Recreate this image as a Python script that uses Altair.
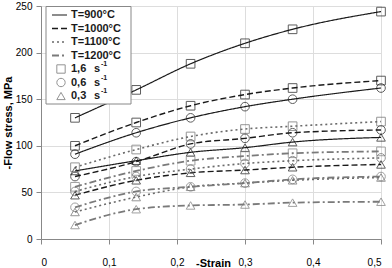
import altair as alt
import pandas as pd

# Strain values where flow stress was measured
strain = [0.05, 0.14, 0.22, 0.30, 0.37, 0.50]

temps = ["T=900°C", "T=1000°C", "T=1100°C", "T=1200°C"]
rates = ["1,6", "0,6", "0,3"]

# Flow stress (MPa) per temperature and strain rate (s^-1)
t900_r16 = [130, 160, 188, 210, 225, 244]
t900_r06 = [91, 114, 130, 142, 150, 162]
t900_r03 = [73, 84, 93, 98, 104, 109]
t1000_r16 = [100, 125, 143, 155, 162, 170]
t1000_r06 = [67, 83, 102, 108, 114, 117]
t1000_r03 = [47, 63, 71, 74, 77, 80]
t1100_r16 = [77, 96, 110, 118, 121, 126]
t1100_r06 = [51, 67, 75, 81, 84, 87]
t1100_r03 = [29, 45, 56, 60, 63, 66]
t1200_r16 = [56, 73, 84, 89, 92, 94]
t1200_r06 = [34, 51, 56, 60, 64, 67]
t1200_r03 = [15, 32, 36, 37, 39, 40]

series = {
    ("T=900°C", "1,6"): t900_r16,
    ("T=900°C", "0,6"): t900_r06,
    ("T=900°C", "0,3"): t900_r03,
    ("T=1000°C", "1,6"): t1000_r16,
    ("T=1000°C", "0,6"): t1000_r06,
    ("T=1000°C", "0,3"): t1000_r03,
    ("T=1100°C", "1,6"): t1100_r16,
    ("T=1100°C", "0,6"): t1100_r06,
    ("T=1100°C", "0,3"): t1100_r03,
    ("T=1200°C", "1,6"): t1200_r16,
    ("T=1200°C", "0,6"): t1200_r06,
    ("T=1200°C", "0,3"): t1200_r03,
}

rows = []
for (t, r), vals in series.items():
    for s, v in zip(strain, vals):
        rows.append({"temp": t, "rate": r, "series": f"{t} {r}", "strain": s, "stress": v})
df = pd.DataFrame(rows)

FONT = "Liberation Sans"
dash_range = [[1, 0], [6, 3], [2, 3], [7, 3, 2, 3]]
line_colors = ["#1a1a1a", "#1a1a1a", "#6a6a6a", "#7a7a7a"]
line_widths = [1.2, 1.8, 1.3, 1.0]
marker_colors = ["#444444", "#333333", "#8a8a8a", "#999999"]
shape_range = ["square", "circle", "triangle-up"]

x_scale = alt.Scale(domain=[0, 0.5], nice=False)
y_scale = alt.Scale(domain=[0, 250], nice=False)

x_enc = alt.X(
    "strain:Q", scale=x_scale,
    axis=alt.Axis(
        values=[0, 0.1, 0.2, 0.3, 0.4, 0.5], title="-Strain",
        labelExpr="replace(format(datum.value, '.1~f'), '.', ',')",
        titleX=172, titleY=18, titleBaseline="top", labelPadding=13,
    ),
)
y_enc = alt.Y(
    "stress:Q", scale=y_scale,
    axis=alt.Axis(
        values=[0, 50, 100, 150, 200, 250], title="-Flow stress, MPa",
        titlePadding=2, labelPadding=4,
    ),
)

lines = alt.Chart(df).mark_line(interpolate="monotone").encode(
    x=x_enc,
    y=y_enc,
    detail="series:N",
    strokeDash=alt.StrokeDash("temp:N", scale=alt.Scale(domain=temps, range=dash_range), legend=None),
    color=alt.Color("temp:N", scale=alt.Scale(domain=temps, range=line_colors), legend=None),
    strokeWidth=alt.StrokeWidth("temp:N", scale=alt.Scale(domain=temps, range=line_widths), legend=None),
)

points = alt.Chart(df).mark_point(filled=False, size=75, strokeWidth=1).encode(
    x=alt.X("strain:Q", scale=x_scale),
    y=alt.Y("stress:Q", scale=y_scale),
    shape=alt.Shape("rate:N", scale=alt.Scale(domain=rates, range=shape_range), legend=None),
    color=alt.Color("temp:N", scale=alt.Scale(domain=temps, range=marker_colors), legend=None),
)

# Legend drawn by hand: one framed box listing line styles, then marker shapes
leg_lines = pd.DataFrame({"temp": temps, "row": [0, 1, 2, 3]})
leg_marks = pd.DataFrame({"rate": rates, "row": [4, 5, 6]})

row_y = "9 + datum.row * 13.5"

leg_box = alt.Chart(pd.DataFrame({"k": [0]})).mark_rect(
    fill="white", stroke="#888888", strokeWidth=1
).encode(x=alt.value(5), x2=alt.value(90), y=alt.value(0.5), y2=alt.value(98))

leg_line = alt.Chart(leg_lines).transform_calculate(py=row_y).mark_rule().encode(
    x=alt.value(11), x2=alt.value(26),
    y=alt.Y("py:Q", scale=None),
    strokeDash=alt.StrokeDash("temp:N", scale=alt.Scale(domain=temps, range=dash_range), legend=None),
    color=alt.Color("temp:N", scale=alt.Scale(domain=temps, range=line_colors), legend=None),
    strokeWidth=alt.StrokeWidth("temp:N", scale=alt.Scale(domain=temps, range=line_widths), legend=None),
)
leg_line_text = alt.Chart(leg_lines).transform_calculate(py=row_y).mark_text(
    align="left", baseline="middle", font=FONT, fontSize=11, fontWeight="bold", color="#1a1a1a"
).encode(x=alt.value(30), y=alt.Y("py:Q", scale=None), text="temp:N")

leg_sym = alt.Chart(leg_marks).transform_calculate(py=row_y).mark_point(
    filled=False, size=70, strokeWidth=1, color="#666666"
).encode(
    x=alt.value(20), y=alt.Y("py:Q", scale=None),
    shape=alt.Shape("rate:N", scale=alt.Scale(domain=rates, range=shape_range), legend=None),
)
leg_rate = alt.Chart(leg_marks).transform_calculate(py=row_y).mark_text(
    align="left", baseline="middle", font=FONT, fontSize=11, fontWeight="bold", color="#1a1a1a"
).encode(x=alt.value(30), y=alt.Y("py:Q", scale=None), text="rate:N")
leg_unit = alt.Chart(leg_marks).transform_calculate(py=row_y, u="'s'").mark_text(
    align="left", baseline="middle", font=FONT, fontSize=11, fontWeight="bold", color="#1a1a1a"
).encode(x=alt.value(53), y=alt.Y("py:Q", scale=None), text="u:N")
leg_sup = alt.Chart(leg_marks).transform_calculate(py=row_y + " - 5", u="'-1'").mark_text(
    align="left", baseline="middle", font=FONT, fontSize=7, fontWeight="bold", color="#1a1a1a"
).encode(x=alt.value(60), y=alt.Y("py:Q", scale=None), text="u:N")

chart = alt.layer(
    lines, points, leg_box, leg_line, leg_line_text, leg_sym, leg_rate, leg_unit, leg_sup
).properties(
    width=340, height=233,
    padding={"left": 41, "top": 6, "right": 11, "bottom": 29},
    autosize=alt.AutoSizeParams(type="none"),
).configure_view(
    stroke="#333333", strokeWidth=1
).configure_axis(
    grid=True, gridColor="#555555", gridWidth=1, gridOpacity=1,
    domain=False, ticks=True, tickSize=4, tickColor="#333333",
    labelFont=FONT, labelFontSize=11, labelFontWeight="bold", labelColor="#1a1a1a",
    titleFont=FONT, titleFontSize=11, titleFontWeight="bold", titleColor="#1a1a1a",
).configure(background="white")

chart.save("out.html", embed_options={"renderer": "svg", "actions": False})
